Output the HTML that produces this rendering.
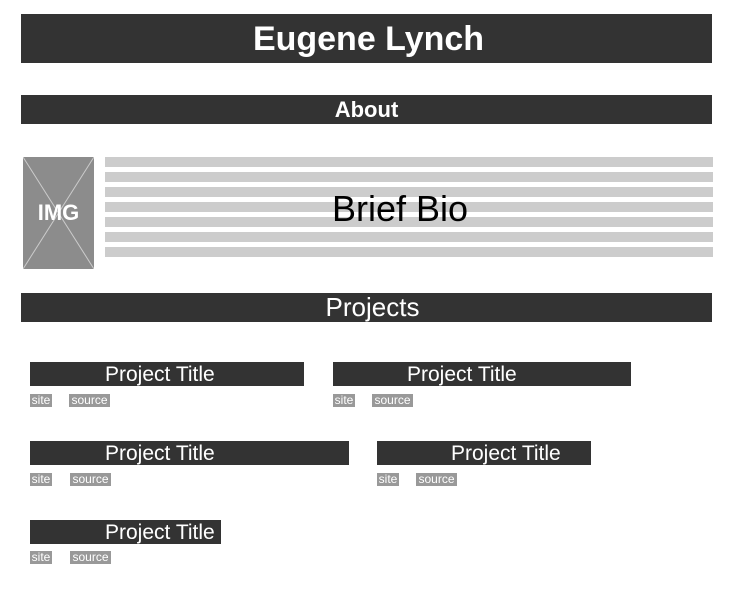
<!DOCTYPE html>
<html><head><style>
body{margin:0;width:736px;height:597px;background:#fff;position:relative;font-family:"Liberation Sans",sans-serif;overflow:hidden}
div{position:absolute;box-sizing:border-box}
.bar{background:#333;color:#fff;text-align:center}
.ln{background:#ccc;left:105px;width:608px;height:10px}
.pt{background:#333;color:#fff;font-size:21px;height:24px;line-height:26px;padding-left:75px;white-space:nowrap;overflow:hidden}
.tag{background:#999;color:#fff;font-size:12px;height:13px;line-height:13px;text-align:center}
</style></head><body>
<div class="bar" style="left:21px;top:14px;width:691px;height:49px;font-size:34px;font-weight:bold;line-height:50px;padding-left:4px">Eugene Lynch</div>
<div class="bar" style="left:21px;top:95px;width:691px;height:29px;font-size:22px;font-weight:bold;line-height:30px">About</div>
<div style="left:23px;top:157px;width:71px;height:112px;background:#8c8c8c">
<svg width="71" height="112" style="position:absolute;left:0;top:0"><line x1="0" y1="0" x2="71" y2="112" stroke="#ccc" stroke-width="1"/><line x1="71" y1="0" x2="0" y2="112" stroke="#ccc" stroke-width="1"/></svg>
<div style="left:0;top:0;width:71px;height:112px;line-height:112px;text-align:center;color:#fff;font-weight:bold;font-size:22px">IMG</div>
</div>
<div class="ln" style="top:157px"></div>
<div class="ln" style="top:172px"></div>
<div class="ln" style="top:187px"></div>
<div class="ln" style="top:202px"></div>
<div class="ln" style="top:217px"></div>
<div class="ln" style="top:232px"></div>
<div class="ln" style="top:247px"></div>
<div style="left:105px;top:188px;width:590px;text-align:center;font-size:36px;color:#000;line-height:42px">Brief Bio</div>
<div class="bar" style="left:21px;top:293px;width:691px;height:29px;font-size:26px;line-height:28px;padding-left:12px">Projects</div>

<div class="pt" style="left:30px;top:362px;width:274px">Project Title</div>
<div class="tag" style="left:30px;top:394px;width:22px">site</div>
<div class="tag" style="left:69px;top:394px;width:41px">source</div>

<div class="pt" style="left:333px;top:362px;width:298px;padding-left:74px">Project Title</div>
<div class="tag" style="left:333px;top:394px;width:22px">site</div>
<div class="tag" style="left:372px;top:394px;width:41px">source</div>

<div class="pt" style="left:30px;top:441px;width:319px">Project Title</div>
<div class="tag" style="left:30px;top:473px;width:22px">site</div>
<div class="tag" style="left:70px;top:473px;width:41px">source</div>

<div class="pt" style="left:377px;top:441px;width:214px;padding-left:74px">Project Title</div>
<div class="tag" style="left:377px;top:473px;width:22px">site</div>
<div class="tag" style="left:416px;top:473px;width:41px">source</div>

<div class="pt" style="left:30px;top:520px;width:191px">Project Title</div>
<div class="tag" style="left:30px;top:551px;width:22px">site</div>
<div class="tag" style="left:70px;top:551px;width:41px">source</div>
</body></html>
